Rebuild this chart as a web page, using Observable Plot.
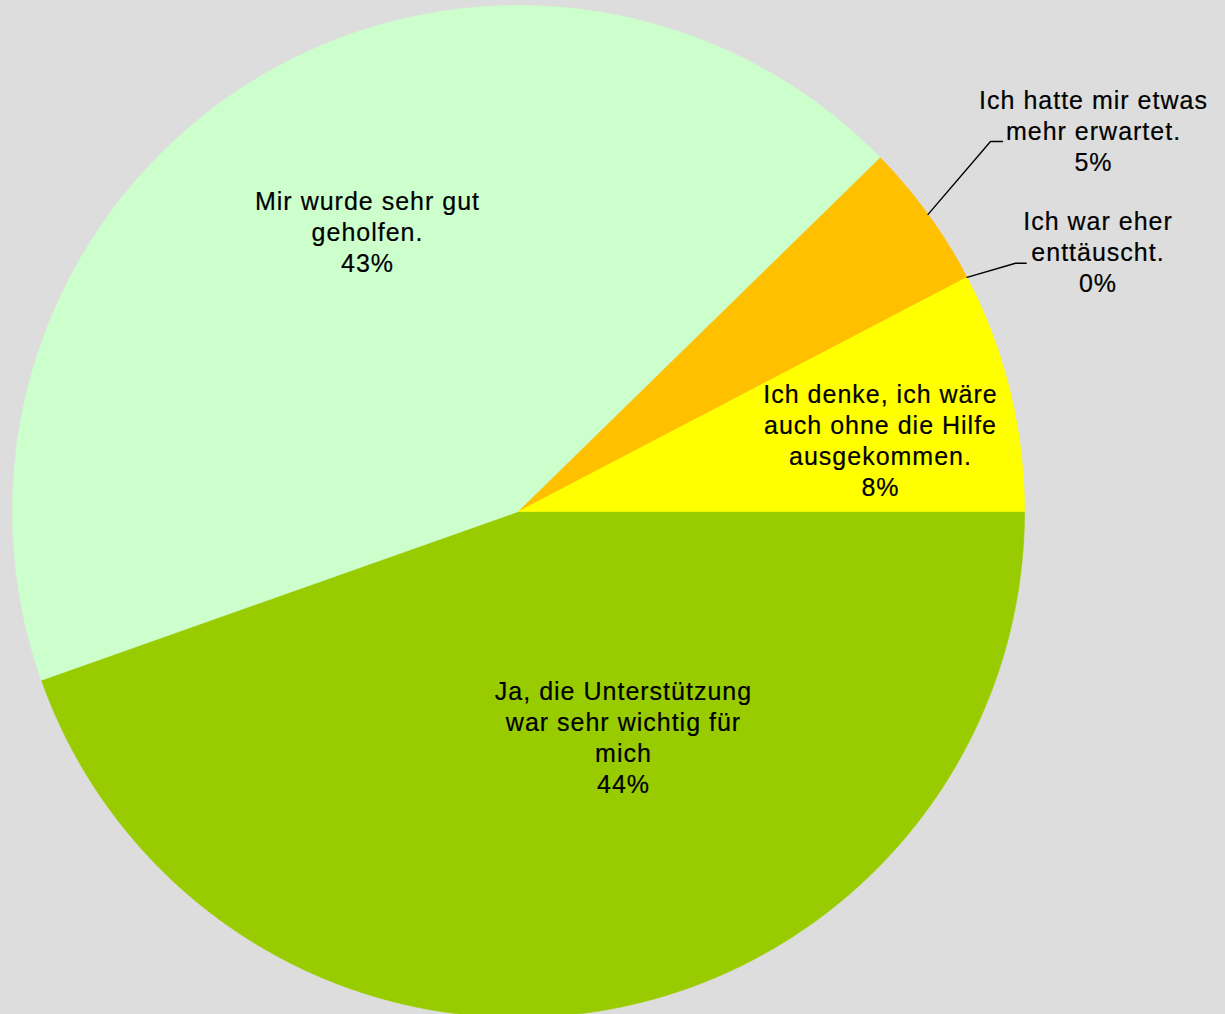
<!DOCTYPE html>
<html><head><meta charset="utf-8">
<script src="https://cdn.jsdelivr.net/npm/d3@7"></script>
<script src="https://cdn.jsdelivr.net/npm/@observablehq/plot@0.6"></script>
<style>
html,body{margin:0;padding:0;background:#dddddd;overflow:hidden}
#chart svg text{letter-spacing:1px}
</style></head><body><div id="chart"></div>
<script>
// ---- data ----
const categories = [
  "Ja, die Unterstützung war sehr wichtig für mich",
  "Mir wurde sehr gut geholfen.",
  "Ich hatte mir etwas mehr erwartet.",
  "Ich war eher enttäuscht.",
  "Ich denke, ich wäre auch ohne die Hilfe ausgekommen."
];
const values = [44.6, 43.1, 4.66, 0, 7.66];
const percentLabels = ["44%", "43%", "5%", "0%", "8%"];
const labelLines = [
  "Ja, die Unterstützung\nwar sehr wichtig für\nmich",
  "Mir wurde sehr gut\ngeholfen.",
  "Ich hatte mir etwas\nmehr erwartet.",
  "Ich war eher\nenttäuscht.",
  "Ich denke, ich wäre\nauch ohne die Hilfe\nausgekommen."
];

// ---- styles / layout ----
const colors = ["#99CC00", "#CCFFCC", "#FFC000", "#FF9900", "#FFFF00"];
const labelPos = [[0.2075, -0.4443], [-0.2984, 0.5534], [1.1364, 0.7543], [1.1453, 0.5138], [0.7154, 0.1417]];
const leaderBends = {2: [[0.9328, 0.7312], [0.9565, 0.7312]], 3: [[0.9822, 0.4907], [1.0034, 0.4907]]};

const rows = categories.map((c, i) => ({cat: c, value: values[i], i}));
const arcs = d3.pie().sort(null).value(d => d.value)
  .startAngle(Math.PI / 2).endAngle(Math.PI / 2 + 2 * Math.PI)(rows);

const slicePts = [];
for (const a of arcs) {
  if (a.data.value <= 0) continue;
  const n = Math.max(2, Math.ceil((a.endAngle - a.startAngle) / (Math.PI / 720)));
  slicePts.push({cat: a.data.cat, x: 0, y: 0});
  for (let k = 0; k <= n; k++) {
    const t = a.startAngle + (a.endAngle - a.startAngle) * k / n;
    slicePts.push({cat: a.data.cat, x: Math.sin(t), y: Math.cos(t)});
  }
  slicePts.push({cat: a.data.cat, x: 0, y: 0});
}

const leaderPts = [];
for (const a of arcs) {
  const b = leaderBends[a.data.i];
  if (!b) continue;
  const m = (a.startAngle + a.endAngle) / 2;
  leaderPts.push({cat: a.data.cat, x: Math.sin(m), y: Math.cos(m)});
  for (const p of b) leaderPts.push({cat: a.data.cat, x: p[0], y: p[1]});
}

const labels = rows.map((r, i) => ({
  x: labelPos[i][0], y: labelPos[i][1],
  text: labelLines[i] + "\n" + percentLabels[i]
}));

const chart = Plot.plot({
  width: 1225,
  height: 1014,
  style: {background: "#dddddd", fontFamily: "'Liberation Sans', Arial, sans-serif"},
  x: {domain: [-1, 1], range: [12, 1024], axis: null},
  y: {domain: [-1, 1], range: [1017, 5], axis: null},
  color: {domain: categories, range: colors},
  marks: [
    Plot.line(slicePts, {x: "x", y: "y", z: "cat", fill: "cat", stroke: "cat", strokeWidth: 0.6}),
    Plot.line(leaderPts, {x: "x", y: "y", z: "cat", stroke: "black", strokeWidth: 1.4}),
    Plot.text(labels, {x: "x", y: "y", text: "text", lineAnchor: "middle", lineHeight: 1.24,
      fontSize: 25, fill: "black", stroke: "black", strokeWidth: 0.2,
      fontFamily: "'Liberation Sans', Arial, sans-serif"})
  ]
});
document.getElementById("chart").appendChild(chart);
</script></body></html>
